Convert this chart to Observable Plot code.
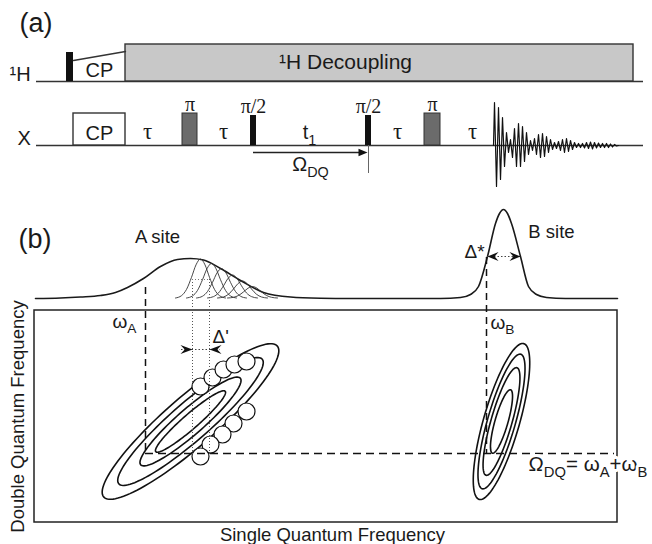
<!DOCTYPE html>
<html><head><meta charset="utf-8">
<script src="https://cdn.jsdelivr.net/npm/d3@7"></script>
<script src="https://cdn.jsdelivr.net/npm/@observablehq/plot@0.6"></script>
<style>
html,body{margin:0;padding:0;background:#fff;}
#chart svg{display:block;}
</style></head><body><div id="chart"></div>
<script>
// ================= DATA =================
// ---- Panel (a): pulse sequence (time in sequence units, amplitude above channel baseline)
const seqRange = [36, 643];
const hBlocks = [
  {kind: "pulse", start: 66, end: 73, amp: 29},
  {kind: "decoupling", start: 125, end: 633, amp: 37}
];
const hRamp = [{t: 73, amp: 21}, {t: 125, amp: 30}];
const xBlocks = [
  {kind: "cp", start: 73, end: 125, amp: 32},
  {kind: "pi", start: 182, end: 197, amp: 32},
  {kind: "pi2", start: 250, end: 256, amp: 30},
  {kind: "pi2", start: 365, end: 371, amp: 30},
  {kind: "pi", start: 424, end: 440, amp: 32}
];
const pulseLabels = ["CP", "π", "π/2", "π/2", "π"];
const delayLabels = ["τ", "τ", "t_{1}", "τ", "τ"];
const delayTimes = [147, 223, 309, 397, 472];
const dqWindow = [{start: 253, end: 367}];
const fidStart = 494, fidStep = 2;
const fidPeaks = [43, 41, 38, 34, 28, 21, 13, 7, 6, 12, 17, 21, 22, 21, 19, 16, 13, 9, 5, 5,
  7, 9, 11, 12, 12, 11, 9, 7, 6, 4, 3, 3, 4, 5, 6, 7, 7, 6, 5, 4,
  3, 2, 2, 2, 2, 2.5, 3, 3, 3.5, 3.5, 3, 2.5, 2.5, 2, 2, 2, 2, 2, 1.5, 1.5,
  1, 0.5];

// ---- Panel (b): 1D projection (frequency, intensity) and 2D contours
const spectrumF = [35, 60, 80, 100, 115, 127, 143, 160, 177, 190, 203, 220, 240, 263, 290, 320, 350,
  440, 460, 470, 478, 487, 495, 499, 503, 507, 511, 520, 528, 536, 546, 565, 617];
const spectrumI = [0, 0.5, 1.5, 3, 6, 11, 20, 32, 39, 40, 38.5, 30, 18, 6, 1.5, 0.3, 0,
  0, 1, 4, 12, 42, 75, 85, 89, 85, 75, 42, 12, 4, 1, 0, 0];
const subPeakF = [200, 211, 221, 232, 242, 252];
const subPeakI = [39, 34.5, 29.5, 23, 17, 11.5];
const peakShapeOffset = [-25, -19, -14, -9, -4.5, 0, 4.5, 9, 14, 19, 25];
const peakShapeRel = [0, 0.06, 0.22, 0.53, 0.85, 1, 0.85, 0.53, 0.22, 0.06, 0];
const sites = ["A site", "B site"];
const siteSQ = [190, 501];      // single-quantum centre of each cross peak
const siteDQ = [421, 421];      // double-quantum centre
const siteTilt = [41, 74];      // orientation of the ridge (deg)
const aContourA = [115, 95, 66, 46], aContourB = [25, 19, 13, 7.5];
const bContourA = [81, 70, 56, 33], bContourB = [18, 14, 10.5, 6.5];
const circleSQ = [200, 212, 223, 234, 246, 246, 233, 222, 210, 200];
const circleDQ = [386, 377, 369, 364, 361, 411, 423, 434, 444, 456];
const omegaA = 145, omegaB = 486, omegaDQ = 453;
const deltaPrime = [192, 209];
const deltaStar = [487, 520];

// ================= LAYOUT =================
const W = 652, H = 544;
const hBase = 81, xBase = 145, specBase = 298;
const frame = {f1: 34, f2: 617, y1: 310, y2: 522};
const SANS = "'Liberation Sans', Arial, Helvetica, sans-serif";
const SERIF = "'Liberation Serif', 'Times New Roman', serif";
const INK = "#1a1a1a";

// ================= helpers (shapes) =================
const ellipseSymbol = (a, b, deg) => {
  const th = -deg * Math.PI / 180, c = Math.cos(th), s = Math.sin(th);
  return {draw(ctx) {
    const n = 120;
    for (let i = 0; i <= n; ++i) {
      const t = 2 * Math.PI * i / n, px = a * Math.cos(t), py = b * Math.sin(t);
      const X = px * c - py * s, Y = px * s + py * c;
      if (i === 0) ctx.moveTo(X, Y); else ctx.lineTo(X, Y);
    }
    ctx.closePath();
  }};
};
const dartSymbol = (dir, len, half, notch) => ({draw(ctx) {
  ctx.moveTo(0, 0);
  ctx.lineTo(-dir * len, -half);
  ctx.lineTo(-dir * len * notch, 0);
  ctx.lineTo(-dir * len, half);
  ctx.closePath();
}});

// ================= derived tables =================
const spectrum = spectrumF.map((f, i) => ({f, I: spectrumI[i]}));
const subPeaks = subPeakF.flatMap((c, k) => peakShapeOffset.map((o, j) => ({k, f: c + o, I: subPeakI[k] * peakShapeRel[j]})));
const fid = [{t: fidStart - 1, v: 0}, ...fidPeaks.map((a, i) => ({t: fidStart + i * fidStep, v: (i % 2 ? -1 : 1) * a})), {t: fidStart + fidPeaks.length * fidStep, v: 0}];
const contours = [
  ...aContourA.map((a, i) => ({sq: siteSQ[0], dq: siteDQ[0], a, b: aContourB[i], tilt: siteTilt[0]})),
  ...bContourA.map((a, i) => ({sq: siteSQ[1], dq: siteDQ[1], a, b: bContourB[i], tilt: siteTilt[1]}))
];
const circles = circleSQ.map((sq, i) => ({sq, dq: circleDQ[i]}));
const xLabeled = xBlocks.map((d, i) => ({...d, label: pulseLabels[i]}));
const delays = delayTimes.map((t, i) => ({t, label: delayLabels[i]}));

const textMark = (data, opts) => Plot.text(data, {fill: INK, fontFamily: SANS, ...opts});

const marks = [
  // ---------- panel (a)
  Plot.ruleY([hBase, xBase], {x1: seqRange[0], x2: seqRange[1], stroke: "#333", strokeWidth: 1.5}),
  Plot.rect(hBlocks.filter(d => d.kind === "decoupling"), {x1: "start", x2: "end", y1: d => hBase - d.amp, y2: hBase, fill: "#c8c8c8", stroke: "#333", strokeWidth: 1.4}),
  Plot.rect(hBlocks.filter(d => d.kind === "pulse"), {x1: "start", x2: "end", y1: d => hBase - d.amp, y2: hBase, fill: "#111"}),
  Plot.line(hRamp, {x: "t", y: d => hBase - d.amp, stroke: "#333", strokeWidth: 1.4}),
  Plot.rect(xBlocks.filter(d => d.kind === "cp"), {x1: "start", x2: "end", y1: d => xBase - d.amp, y2: xBase, fill: "white", stroke: "#333", strokeWidth: 1.4}),
  Plot.rect(xBlocks.filter(d => d.kind === "pi"), {x1: "start", x2: "end", y1: d => xBase - d.amp, y2: xBase, fill: "#6b6b6b", stroke: "#333", strokeWidth: 1}),
  Plot.rect(xBlocks.filter(d => d.kind === "pi2"), {x1: "start", x2: "end", y1: d => xBase - d.amp, y2: xBase, fill: "#111"}),
  Plot.line(fid, {x: "t", y: d => xBase - d.v, stroke: "#111", strokeWidth: 1.2}),
  // DQ evolution arrow
  Plot.ruleY(dqWindow, {x1: "start", x2: d => d.end - 6, y: xBase + 7, stroke: "#222", strokeWidth: 1.3}),
  Plot.dot(dqWindow, {x: "end", y: xBase + 7, r: 4, symbol: dartSymbol(1, 9, 3.8, 1), fill: "#111", stroke: "none"}),
  Plot.ruleX(dqWindow, {x: d => d.end + 1, y1: xBase, y2: xBase + 28, stroke: "#666", strokeWidth: 1}),
  // labels panel a
  textMark([hBlocks[0]], {x: () => 99, y: hBase - 11, text: () => "CP", fontSize: 20}),
  textMark(xLabeled.filter(d => d.kind === "cp"), {x: d => (d.start + d.end) / 2, y: xBase - 11.5, text: "label", fontSize: 20}),
  textMark(xLabeled.filter(d => d.kind !== "cp"), {x: d => (d.start + d.end) / 2, y: d => xBase - d.amp - 2.5, text: "label", lineAnchor: "bottom", fontFamily: SERIF, fontSize: 20}),
  textMark(delays.filter(d => d.label === "τ"), {x: "t", y: xBase - 14, text: "label", fontFamily: SERIF, fontSize: 23}),
  textMark(delays.filter(d => d.label !== "τ"), {x: "t", y: xBase - 13, text: "label", fontSize: 20}),
  textMark(dqWindow, {x: d => (d.start + d.end) / 2, y: xBase + 19, text: () => "Ω_{DQ}", fontSize: 20}),
  textMark(["(a)"], {x: 19, y: 22.5, text: d => d, textAnchor: "start", fontSize: 27}),
  textMark(["¹H"], {x: 9, y: hBase - 7, text: d => d, textAnchor: "start", fontSize: 20}),
  textMark(["X"], {x: 17, y: xBase - 6.5, text: d => d, textAnchor: "start", fontSize: 20}),
  textMark(hBlocks.filter(d => d.kind === "decoupling"), {x: () => 345, y: d => hBase - d.amp + 18, text: () => "¹H Decoupling", fontSize: 21}),

  // ---------- panel (b)
  Plot.rect([frame], {x1: "f1", x2: "f2", y1: "y1", y2: "y2", fill: "none", stroke: "#222", strokeWidth: 1.5}),
  Plot.line(spectrum, {x: "f", y: d => specBase - d.I, curve: "monotone-x", stroke: INK, strokeWidth: 1.6}),
  Plot.line(subPeaks, {x: "f", y: d => specBase - 0.5 - d.I, z: "k", curve: "monotone-x", stroke: "#333", strokeWidth: 0.9}),
  ...contours.map(c => Plot.dot([c], {x: "sq", y: "dq", r: 5, symbol: ellipseSymbol(c.a, c.b, c.tilt), fill: "none", stroke: "#111", strokeWidth: 1.6})),
  Plot.dot(circles, {x: "sq", y: "dq", r: 8.5, fill: "white", stroke: "#111", strokeWidth: 1.2}),
  // guides
  Plot.ruleX([omegaA], {y1: 287, y2: omegaDQ, stroke: "#111", strokeWidth: 1.5, strokeDasharray: "7,5"}),
  Plot.ruleX([omegaB], {y1: 257, y2: omegaDQ, stroke: "#111", strokeWidth: 1.5, strokeDasharray: "7,5"}),
  Plot.ruleY([omegaDQ], {x1: omegaA, x2: frame.f2 - 3, stroke: "#111", strokeWidth: 1.5, strokeDasharray: "8,5"}),
  Plot.ruleX(deltaPrime, {y1: 279, y2: 455, stroke: "#555", strokeWidth: 1, strokeDasharray: "1,2"}),
  Plot.ruleY([279], {x1: deltaPrime[0], x2: deltaPrime[1], stroke: "#777", strokeWidth: 1, strokeDasharray: "1,2"}),
  Plot.ruleY([349], {x1: deltaPrime[0] - 11, x2: deltaPrime[1] + 11, stroke: "#444", strokeWidth: 1, strokeDasharray: "1.5,2"}),
  Plot.dot([deltaPrime[0]], {x: d => d, y: 349, r: 4, symbol: dartSymbol(1, 12, 4.5, 0.65), fill: "#111", stroke: "none"}),
  Plot.dot([deltaPrime[1]], {x: d => d, y: 349, r: 4, symbol: dartSymbol(-1, 12, 4.5, 0.65), fill: "#111", stroke: "none"}),
  Plot.ruleY([256], {x1: deltaStar[0], x2: deltaStar[1], stroke: "#444", strokeWidth: 1, strokeDasharray: "1.5,2"}),
  Plot.dot([deltaStar[0]], {x: d => d, y: 256, r: 4, symbol: dartSymbol(-1, 11, 4.5, 0.65), fill: "#111", stroke: "none"}),
  Plot.dot([deltaStar[1]], {x: d => d, y: 256, r: 4, symbol: dartSymbol(1, 11, 4.5, 0.65), fill: "#111", stroke: "none"}),
  // labels panel b
  textMark(["(b)"], {x: 18, y: 238.5, text: d => d, textAnchor: "start", fontSize: 27}),
  textMark([sites[0]], {x: 157, y: 237, text: d => d, fontSize: 18.5}),
  textMark([sites[1]], {x: 551, y: 232, text: d => d, fontSize: 18.5}),
  textMark(["Δ*"], {x: 464, y: 251, text: d => d, textAnchor: "start", fontSize: 19}),
  textMark(["Δ'"], {x: 212, y: 336, text: d => d, textAnchor: "start", fontSize: 19}),
  textMark(["ω_{A}"], {x: 112, y: 321.5, text: d => d, textAnchor: "start", fontSize: 19}),
  textMark(["ω_{B}"], {x: 490, y: 322, text: d => d, textAnchor: "start", fontSize: 19}),
  textMark(["Ω_{DQ}= ω_{A}+ω_{B}"], {x: 528, y: 464, text: d => d, textAnchor: "start", fontSize: 20.5, stroke: "white", strokeWidth: 6, paintOrder: "stroke"}),
  textMark(["Single Quantum Frequency"], {x: 332, y: 535, text: d => d, fontSize: 18.5}),
  textMark(["Double Quantum Frequency"], {x: 17.5, y: 416, text: d => d, rotate: -90, fontSize: 18.5})
];

const chart = Plot.plot({
  width: W, height: H, margin: 0,
  x: {domain: [0, W], range: [0, W], axis: null},
  y: {domain: [0, H], range: [0, H], axis: null},
  style: {fontFamily: SANS, background: "white", overflow: "visible"},
  marks
});

// rich text: turn "_{...}" into subscript tspans
function applyRichText(svg) {
  const NS = "http://www.w3.org/2000/svg";
  svg.querySelectorAll("text").forEach(t => {
    const s = t.textContent;
    if (!/_\{/.test(s)) return;
    const g = t.closest("[font-size]");
    const fs = g ? parseFloat(g.getAttribute("font-size")) : 16;
    const parts = s.split(/(_\{[^}]*\})/).filter(p => p !== "");
    while (t.firstChild) t.removeChild(t.firstChild);
    let shifted = false;
    for (const p of parts) {
      const ts = document.createElementNS(NS, "tspan");
      if (p.startsWith("_{")) {
        ts.textContent = p.slice(2, -1);
        ts.setAttribute("font-size", (fs * 0.72).toFixed(1));
        ts.setAttribute("dy", (fs * 0.28).toFixed(1));
        shifted = true;
      } else {
        ts.textContent = p;
        if (shifted) { ts.setAttribute("dy", (-fs * 0.28).toFixed(1)); shifted = false; }
      }
      t.appendChild(ts);
    }
  });
}
applyRichText(chart);
document.getElementById("chart").append(chart);
</script></body></html>
